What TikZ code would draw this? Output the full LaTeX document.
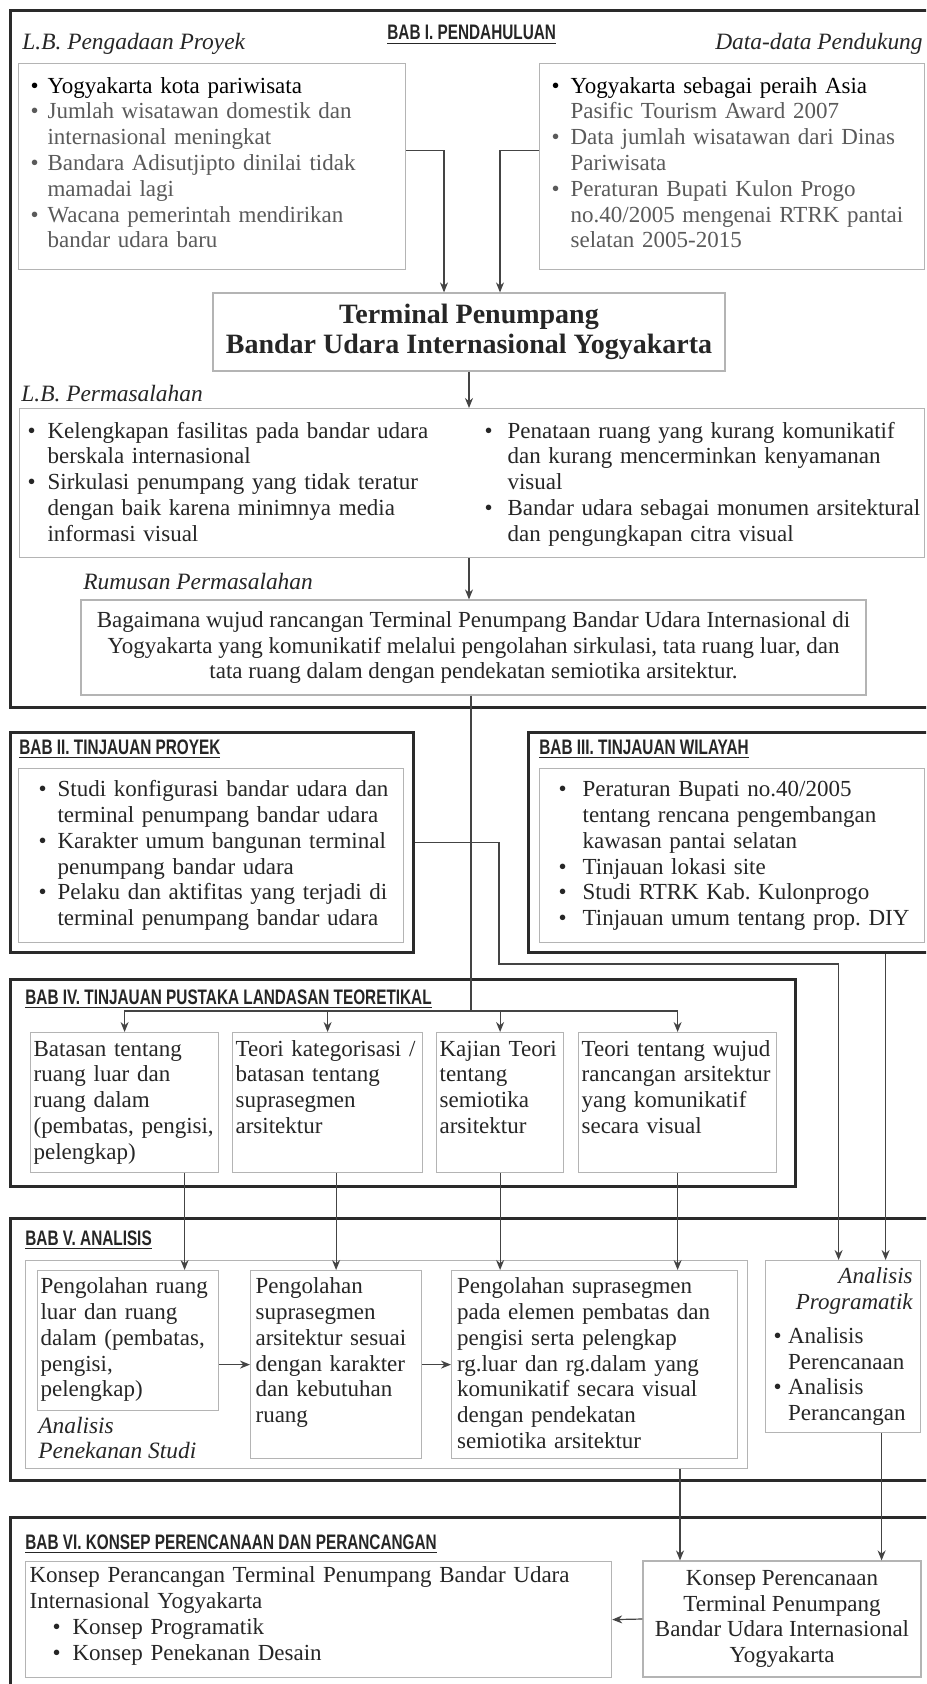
\documentclass[tikz,border=0pt]{standalone}
\usepackage{fontspec}
\setmainfont{Liberation Serif}
\newfontfamily\babfont{Liberation Sans}[FakeStretch=0.73]
\usetikzlibrary{arrows.meta}
\definecolor{frame}{HTML}{2A2A2A}
\definecolor{edge}{HTML}{B4B4B4}
\definecolor{wiregray}{HTML}{444444}
\definecolor{ink}{HTML}{262626}
\definecolor{pale}{HTML}{5A5A5A}
\newcommand{\bab}[1]{{\babfont\bfseries\fontsize{10.5}{12}\selectfont\underline{#1}}}
\newcommand{\rows}[1]{\begin{tabular}[t]{@{}l@{}}#1\end{tabular}}
\newcommand{\blist}[2]{\begin{tabular}[t]{@{}p{#1}@{}l@{}}#2\end{tabular}}
\newcommand{\bul}{\textbullet}
\newcommand{\hi}[1]{\textcolor{black}{#1}}
\begin{document}
\begin{tikzpicture}[x=0.5pt,y=-0.5pt,font=\fontsize{11.5}{12.9}\selectfont,text=ink,
  chap/.style={draw=frame,line width=1.3pt,anchor=north west,inner sep=0pt},
  cell/.style={draw=edge,line width=0.6pt,anchor=north west,inner ysep=0pt,align=left},
  mid/.style={draw=edge,line width=0.6pt,align=center,inner sep=0pt},
  head/.style={anchor=base west,inner sep=0pt},
  tag/.style={anchor=base west,inner sep=0pt,font=\fontsize{11.7}{12.5}\selectfont\itshape},
  wire/.style={draw=wiregray,line width=0.6pt},
  arr/.style={wire,-{Stealth[length=5pt,width=4pt]}}]
  \useasboundingbox (0,0) rectangle (926,1684);
  \fill[white] (0,0) rectangle (926,1684);
  \clip (0,0) rectangle (926,1684);

  \node[chap,minimum width=470.5pt,minimum height=348.5pt] (bab1) at (9,9) {};
  \node[chap,minimum width=201.5pt,minimum height=110pt] (bab2) at (9,731) {};
  \node[chap,minimum width=211.5pt,minimum height=110pt] (bab3) at (527,731) {};
  \node[chap,minimum width=392.5pt,minimum height=103.5pt] (bab4) at (9,978) {};
  \node[chap,minimum width=470.5pt,minimum height=131pt] (bab5) at (9,1217) {};
  \node[chap,minimum width=470.5pt,minimum height=97pt] (bab6) at (9,1516) {};

  \node[head] (h1) at (387,40) {\bab{BAB I. PENDAHULUAN}};
  \node[head] (h2) at (19,754) {\bab{BAB II. TINJAUAN PROYEK}};
  \node[head] (h3) at (539,754) {\bab{BAB III. TINJAUAN WILAYAH}};
  \node[head] (h4) at (25,1004) {\bab{BAB IV. TINJAUAN PUSTAKA LANDASAN TEORETIKAL}};
  \node[head] (h5) at (25,1245) {\bab{BAB V. ANALISIS}};
  \node[head] (h6) at (25,1549) {\bab{BAB VI. KONSEP PERENCANAAN DAN PERANCANGAN}};

  \node[tag] (t-lbp) at (22,50) {L.B. Pengadaan Proyek};
  \node[tag,anchor=base east] (t-dat) at (923,50) {Data-data Pendukung};
  \node[tag] (t-perm) at (21,401) {L.B. Permasalahan};
  \node[tag] (t-rum) at (83,589) {Rumusan Permasalahan};

  \node[cell,text=pale,inner xsep=6pt,text width=181.5pt,text height=14.75pt,text depth=88.25pt] (lbp) at (18,63)
    {\blist{8.5pt}{\hi{\bul} & \hi{Yogyakarta kota pariwisata}\\
      \bul & Jumlah wisatawan domestik dan\\ & internasional meningkat\\
      \bul & Bandara Adisutjipto dinilai tidak\\ & mamadai lagi\\
      \bul & Wacana pemerintah mendirikan\\ & bandar udara baru}};
  \node[cell,text=pale,inner xsep=6pt,text width=180.5pt,text height=14.75pt,text depth=88.25pt] (dat) at (539,63)
    {\blist{9.5pt}{\hi{\bul} & \hi{Yogyakarta sebagai peraih Asia}\\ & Pasific Tourism Award 2007\\
      \bul & Data jumlah wisatawan dari Dinas\\ & Pariwisata\\
      \bul & Peraturan Bupati Kulon Progo\\ & no.40/2005 mengenai RTRK pantai\\ & selatan 2005-2015}};
  \node[mid,minimum width=256pt,minimum height=39pt,font=\bfseries\fontsize{14}{15}\selectfont] (term) at (469,332)
    {Terminal Penumpang\\Bandar Udara Internasional Yogyakarta};
  \node[cell,inner xsep=4pt,text width=444.5pt,text height=14.75pt,text depth=59.75pt] (perm) at (19,408)
    {\begin{tabular}[t]{@{}p{10pt}@{}p{218.5pt}@{}p{11.5pt}@{}l@{}}
      \bul & Kelengkapan fasilitas pada bandar udara & \bul & Penataan ruang yang kurang komunikatif\\
      & berskala internasional & & dan kurang mencerminkan kenyamanan\\
      \bul & Sirkulasi penumpang yang tidak teratur & & visual\\
      & dengan baik karena minimnya media & \bul & Bandar udara sebagai monumen arsitektural\\
      & informasi visual & & dan pengungkapan citra visual
    \end{tabular}};
  \node[mid,minimum width=392.5pt,minimum height=47.5pt] (rum) at (473.5,647.5)
    {Bagaimana wujud rancangan Terminal Penumpang Bandar Udara Internasional di\\
     Yogyakarta yang komunikatif melalui pengolahan sirkulasi, tata ruang luar, dan\\
     tata ruang dalam dengan pendekatan semiotika arsitektur.};

  \node[cell,inner xsep=10pt,text width=172.5pt,text height=14pt,text depth=73pt] (tp) at (18,768)
    {\blist{9.5pt}{\bul & Studi konfigurasi bandar udara dan\\ & terminal penumpang bandar udara\\
      \bul & Karakter umum bangunan terminal\\ & penumpang bandar udara\\
      \bul & Pelaku dan aktifitas yang terjadi di\\ & terminal penumpang bandar udara}};
  \node[cell,inner xsep=9.5pt,text width=173.5pt,text height=14pt,text depth=73pt] (tw) at (539,768)
    {\blist{12pt}{\bul & Peraturan Bupati no.40/2005\\ & tentang rencana pengembangan\\ & kawasan pantai selatan\\
      \bul & Tinjauan lokasi site\\ \bul & Studi RTRK Kab.\ Kulonprogo\\ \bul & Tinjauan umum tentang prop.\ DIY}};

  \node[cell,inner xsep=1.5pt,text width=91pt,text height=11.75pt,text depth=58.25pt] (t1) at (30,1032)
    {\rows{Batasan tentang\\ruang luar dan\\ruang dalam\\(pembatas, pengisi,\\pelengkap)}};
  \node[cell,inner xsep=1.5pt,text width=92pt,text height=11.75pt,text depth=58.25pt] (t2) at (232,1032)
    {\rows{Teori kategorisasi /\\batasan tentang\\suprasegmen\\arsitektur}};
  \node[cell,inner xsep=1.5pt,text width=60.5pt,text height=11.75pt,text depth=58.25pt] (t3) at (436,1032)
    {\rows{Kajian Teori\\tentang\\semiotika\\arsitektur}};
  \node[cell,inner xsep=1.5pt,text width=96pt,text height=11.75pt,text depth=58.25pt] (t4) at (578,1032)
    {\rows{Teori tentang wujud\\rancangan arsitektur\\yang komunikatif\\secara visual}};

  \node[cell,inner sep=0pt,minimum width=361pt,minimum height=104pt] (ps) at (25,1260) {};
  \node[tag] (t-ps) at (38,1433) {\rows{Analisis\\Penekanan Studi}};
  \node[cell,inner xsep=1.5pt,text width=87.5pt,text height=11.5pt,text depth=58.5pt] (pa) at (37,1270)
    {\rows{Pengolahan ruang\\luar dan ruang\\dalam (pembatas,\\pengisi,\\pelengkap)}};
  \node[cell,inner xsep=2.5pt,text width=80.5pt,text height=11.5pt,text depth=82.5pt] (pb) at (250,1270)
    {\rows{Pengolahan\\suprasegmen\\arsitektur sesuai\\dengan karakter\\dan kebutuhan\\ruang}};
  \node[cell,inner xsep=2.75pt,text width=137.5pt,text height=11.5pt,text depth=82.5pt] (pc) at (451,1270)
    {\rows{Pengolahan suprasegmen\\pada elemen pembatas dan\\pengisi serta pelengkap\\rg.luar dan rg.dalam yang\\komunikatif secara visual\\dengan pendekatan\\semiotika arsitektur}};
  \node[cell,inner xsep=4pt,text width=69.5pt,text height=11.5pt,text depth=74.5pt] (ap) at (765,1260)
    {\begin{tabular}[t]{@{}p{7.25pt}@{}p{62.25pt}@{}}
      \multicolumn{2}{@{}r@{}}{\itshape Analisis}\\
      \multicolumn{2}{@{}r@{}}{\itshape Programatik}\\[4pt]
      \bul & Analisis\\ & Perencanaan\\ \bul & Analisis\\ & Perancangan
    \end{tabular}};

  \node[cell,inner xsep=2pt,text width=289pt,text height=10.5pt,text depth=47.5pt] (kc) at (25,1561)
    {\rows{Konsep Perancangan Terminal Penumpang Bandar Udara\\Internasional Yogyakarta\\
      \hspace*{11.5pt}\makebox[10pt][l]{\bul}Konsep Programatik\\
      \hspace*{11.5pt}\makebox[10pt][l]{\bul}Konsep Penekanan Desain}};
  \node[mid,minimum width=139pt,minimum height=58pt] (kp) at (782,1619)
    {Konsep Perencanaan\\Terminal Penumpang\\Bandar Udara Internasional\\Yogyakarta};

  \draw[arr] ([yshift=8pt]lbp.east) -| ([xshift=-12.5pt]term.north);
  \draw[arr] ([yshift=8pt]dat.west) -| ([xshift=15.5pt]term.north);
  \draw[arr] (term.south) -- (term.south |- perm.north);
  \draw[arr] (term.south |- perm.south) -- (term.south |- rum.north);
  \coordinate (hub) at (471,1011);
  \draw[wire] (rum.south -| hub) -- (hub);
  \foreach \tb in {t1,t2,t3,t4} \draw[arr] (hub) -| (\tb.north);
  \draw[arr] (bab2.east) -| (499,964) -| ([xshift=-2.25pt]ap.north);
  \draw[arr] ([xshift=21.25pt]ap.north |- bab3.south) -- ([xshift=21.25pt]ap.north);
  \draw[arr] ([xshift=30pt]t1.south) -- ([xshift=30pt]t1.south |- pa.north);
  \draw[arr] (pb.north |- t2.south) -- (pb.north);
  \draw[arr] (t3.south) -- (t3.south |- pc.north);
  \draw[arr] (t4.south) -- (t4.south |- pc.north);
  \draw[arr] (pa.east |- pb.west) -- (pb.west);
  \draw[arr] (pb.east) -- (pc.west);
  \draw[arr] ([xshift=-51pt]kp.north |- ps.south) -- ([xshift=-51pt]kp.north);
  \draw[arr] ([xshift=19.25pt]ap.south) -- ([xshift=19.25pt]ap.south |- kp.north);
  \draw[arr] (kp.west) -- (kc.east);
\end{tikzpicture}
\end{document}
